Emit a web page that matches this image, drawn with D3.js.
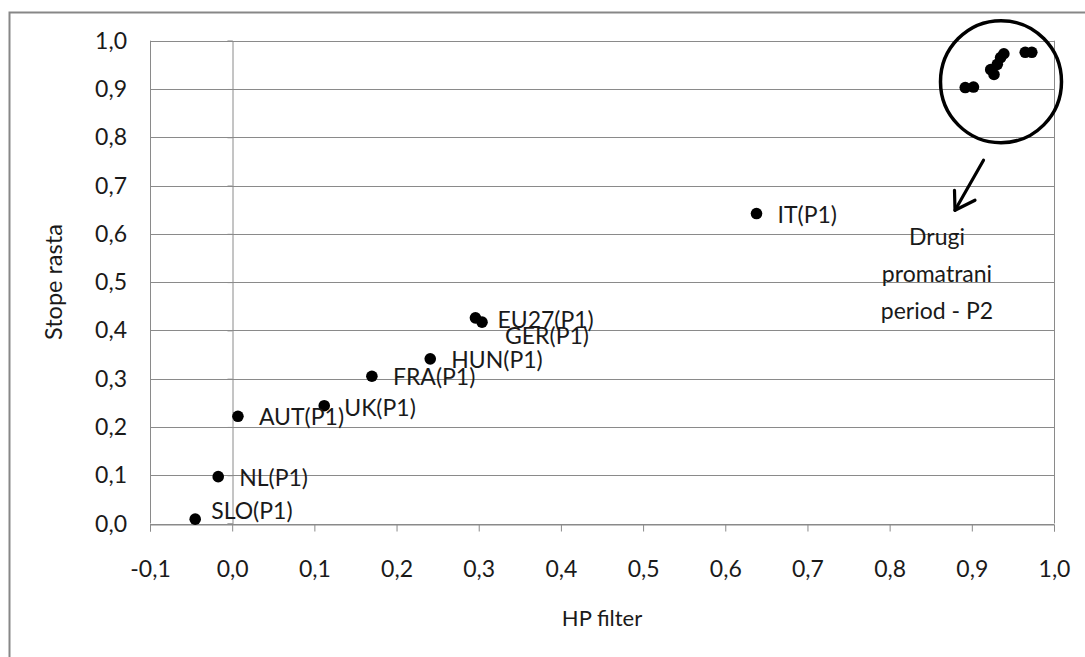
<!DOCTYPE html>
<html>
<head>
  <meta charset="utf-8">
  <title>Stope rasta vs HP filter</title>
  <script src="https://d3js.org/d3.v7.min.js"></script>
  <style>
    body { margin: 0; background: #fff; }
    svg text { font-family: Lato, "Open Sans", sans-serif; fill: #1a1a1a; }
  </style>
</head>
<body>
  <div id="chart"></div>

  <script>
    // first period (P1), labelled points
    const countries = ["SLO", "NL", "AUT", "UK", "FRA", "HUN", "EU27", "GER", "IT"];
    const hpP1      = [-0.045, -0.017, 0.007, 0.112, 0.170, 0.241, 0.296, 0.304, 0.638];
    const rateP1    = [0.009, 0.097, 0.222, 0.244, 0.305, 0.341, 0.426, 0.417, 0.642];

    // second period (P2), unlabelled cluster
    const hpP2   = [0.892, 0.902, 0.923, 0.927, 0.931, 0.935, 0.939, 0.965, 0.973];
    const rateP2 = [0.903, 0.904, 0.940, 0.930, 0.951, 0.965, 0.973, 0.976, 0.976];

    const xTicks = [-0.1, 0.0, 0.1, 0.2, 0.3, 0.4, 0.5, 0.6, 0.7, 0.8, 0.9, 1.0];
    const yTicks = [0.0, 0.1, 0.2, 0.3, 0.4, 0.5, 0.6, 0.7, 0.8, 0.9, 1.0];
    const noteLines = ["Drugi", "promatrani", "period - P2"];

    const W = 1085, H = 657;
    const margin = { top: 40.7, right: 31, bottom: 133.5, left: 150 };

    const fmt = d => d3.format(".1f")(d).replace(".", ",").replace("−", "-");

    const svg = d3.select("#chart").append("svg")
      .attr("width", W)
      .attr("height", H);

    // outer chart frame
    svg.append("rect")
      .attr("x", 9.5).attr("y", 12.5)
      .attr("width", W + 20).attr("height", H + 20)
      .attr("fill", "none")
      .attr("stroke", "#878787")
      .attr("stroke-width", 2);

    const x = d3.scaleLinear().domain([-0.1, 1.0]).range([margin.left, W - margin.right]);
    const y = d3.scaleLinear().domain([0, 1]).range([H - margin.bottom, margin.top]);

    // gridlines
    svg.append("g")
      .selectAll("line")
      .data(yTicks)
      .enter().append("line")
      .attr("x1", x(-0.1)).attr("x2", x(1.0))
      .attr("y1", d => Math.round(y(d)) + 0.5)
      .attr("y2", d => Math.round(y(d)) + 0.5)
      .attr("stroke", "#8a8a8a");

    // plot area border (left / right)
    [-0.1, 1.0].forEach(v => {
      svg.append("line")
        .attr("x1", Math.round(x(v)) + 0.5).attr("x2", Math.round(x(v)) + 0.5)
        .attr("y1", y(1)).attr("y2", y(0))
        .attr("stroke", "#8a8a8a");
    });

    // x axis at y = 0
    const xAxis = d3.axisBottom(x)
      .tickValues(xTicks)
      .tickFormat(fmt)
      .tickSize(7)
      .tickPadding(29);

    const gx = svg.append("g")
      .attr("transform", `translate(0,${Math.round(y(0)) + 0.5})`)
      .call(xAxis);
    gx.select(".domain").attr("stroke", "#8a8a8a");
    gx.selectAll(".tick line").attr("stroke", "#8a8a8a");
    gx.selectAll(".tick text").attr("font-size", 23).attr("font-family", "Lato");

    // y axis at x = 0
    const gy = svg.append("g")
      .attr("transform", `translate(${Math.round(x(0)) + 0.5},0)`)
      .call(d3.axisLeft(y).tickValues(yTicks).tickSize(5).tickFormat(""));
    gy.select(".domain").attr("stroke", "#8a8a8a");
    gy.selectAll(".tick line").attr("stroke", "#8a8a8a");

    // y tick labels sit at the plot's left edge
    svg.append("g")
      .selectAll("text")
      .data(yTicks)
      .enter().append("text")
      .attr("x", x(-0.1) - 23)
      .attr("y", d => y(d))
      .attr("dy", "0.35em")
      .attr("text-anchor", "end")
      .attr("font-size", 23)
      .text(fmt);

    // axis titles
    svg.append("text")
      .attr("x", (x(-0.1) + x(1.0)) / 2)
      .attr("y", 626)
      .attr("text-anchor", "middle")
      .attr("font-size", 22)
      .text("HP filter");

    svg.append("text")
      .attr("transform", `translate(62,${(y(0) + y(1)) / 2}) rotate(-90)`)
      .attr("text-anchor", "middle")
      .attr("font-size", 23.5)
      .text("Stope rasta");

    // points
    const p1 = countries.map((c, i) => ({ name: c, hp: hpP1[i], rate: rateP1[i] }));
    const p2 = hpP2.map((v, i) => ({ hp: v, rate: rateP2[i] }));

    svg.append("g")
      .selectAll("circle")
      .data(p1.concat(p2))
      .enter().append("circle")
      .attr("cx", d => x(d.hp))
      .attr("cy", d => y(d.rate))
      .attr("r", 5.8)
      .attr("fill", "#000");

    // data labels (manually nudged, like in the original)
    const nudge = { SLO: [16, -8], GER: [23, 14], UK: [20, 2], EU27: [22, 2] };
    svg.append("g")
      .selectAll("text")
      .data(p1)
      .enter().append("text")
      .attr("x", d => x(d.hp) + (nudge[d.name] ? nudge[d.name][0] : 21))
      .attr("y", d => y(d.rate) + (nudge[d.name] ? nudge[d.name][1] : 1))
      .attr("dy", "0.35em")
      .attr("font-size", 23)
      .text(d => d.name + "(P1)");

    // circle around second period cluster
    const cx = x(0.9355), cy = y(0.915);
    svg.append("ellipse")
      .attr("cx", cx).attr("cy", cy)
      .attr("rx", 60.5).attr("ry", 61)
      .attr("fill", "none")
      .attr("stroke", "#000")
      .attr("stroke-width", 3.5);

    // arrow
    const a0 = [cx - 17.5, cy + 78.5], a1 = [cx - 46, cy + 128.5];
    const arrow = svg.append("g")
      .attr("stroke", "#000")
      .attr("stroke-width", 3.2)
      .attr("fill", "none")
      .attr("stroke-linecap", "round");
    arrow.append("line")
      .attr("x1", a0[0]).attr("y1", a0[1])
      .attr("x2", a1[0]).attr("y2", a1[1]);
    arrow.append("polyline")
      .attr("points", [[a1[0] - 0.5, a1[1] - 20], a1, [a1[0] + 20, a1[1] - 10]].map(p => p.join(",")).join(" "))
      .attr("stroke-linejoin", "round");

    // note
    svg.append("g")
      .selectAll("text")
      .data(noteLines)
      .enter().append("text")
      .attr("x", cx - 64)
      .attr("y", (d, i) => cy + 155 + i * 37)
      .attr("dy", "0.35em")
      .attr("text-anchor", "middle")
      .attr("font-size", 23)
      .text(d => d);
  </script>
</body>
</html>
